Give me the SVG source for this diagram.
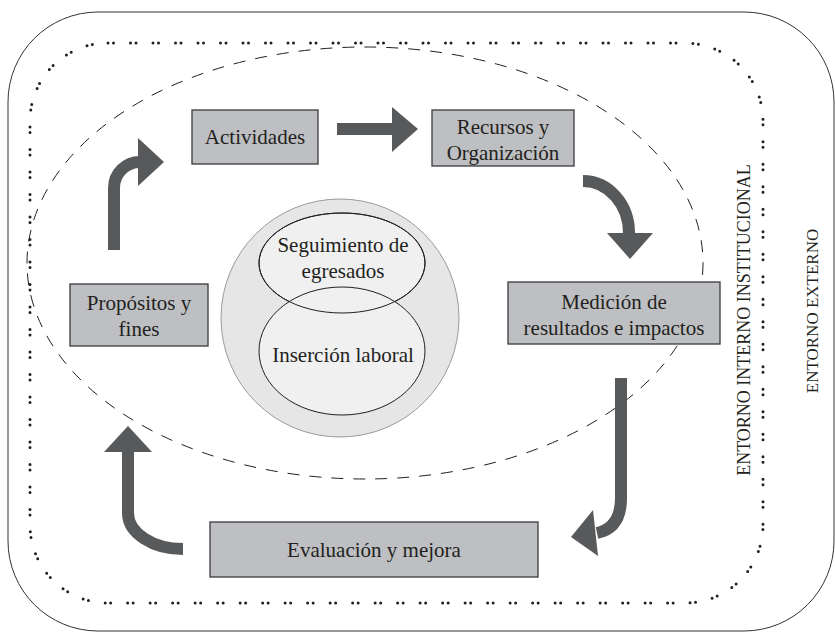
<svg xmlns="http://www.w3.org/2000/svg" width="835" height="632" viewBox="0 0 835 632">
  <style>
    text { font-family: "Liberation Serif", Tinos, "Times New Roman", "Nimbus Roman", "DejaVu Serif", serif; fill: #231f20; text-anchor: middle; }
    .lbl { font-size: 21px; }
    .side { font-size: 17px; }
    .side-in { font-size: 18px; }
    .box { fill: #bebfc2; stroke: #3a3a3a; stroke-width: 1.3; }
    .shaft { fill: none; stroke: #58595b; stroke-width: 12; stroke-linecap: butt; }
    .head { fill: #58595b; }
  </style>
  <rect width="835" height="632" fill="#ffffff"/>

  <!-- external environment frame -->
  <g id="entorno-externo">
    <rect x="8" y="12" width="826" height="619" rx="90" ry="90" fill="none" stroke="#333" stroke-width="1"/>
    <text class="side" transform="translate(812 311) rotate(-90)" dy="6">ENTORNO EXTERNO</text>
  </g>

  <!-- internal institutional environment (dotted frame) -->
  <g id="entorno-interno">
    <rect x="30" y="43" width="733" height="560" rx="78" ry="78" fill="none" stroke="#231f20" stroke-width="3" stroke-linecap="round" stroke-dasharray="0 5.5 0 17"/>
    <text class="side-in" transform="translate(744 320) rotate(-90)" dy="6">ENTORNO INTERNO INSTITUCIONAL</text>
  </g>

  <!-- dashed process boundary -->
  <g id="ciclo">
    <ellipse cx="365" cy="263" rx="338" ry="216" fill="none" stroke="#231f20" stroke-width="1" stroke-dasharray="12 10"/>
  </g>

  <!-- central core -->
  <g id="nucleo">
    <circle cx="340" cy="318" r="119" fill="#e6e6e7" stroke="#9a9a9a" stroke-width="1"/>
    <ellipse cx="342" cy="263" rx="83" ry="50" fill="#f0f0f1" stroke="#231f20" stroke-width="1"/>
    <ellipse cx="342" cy="351" rx="83" ry="64" fill="#f0f0f1" stroke="#231f20" stroke-width="1"/>
    <ellipse cx="342" cy="263" rx="83" ry="50" fill="none" stroke="#231f20" stroke-width="1"/>
  </g>
  <g id="seguimiento">
    <text class="lbl" x="343" y="252">Seguimiento de</text>
    <text class="lbl" x="343" y="278">egresados</text>
  </g>
  <g id="insercion">
    <text class="lbl" x="343" y="362">Inserción laboral</text>
  </g>

  <!-- process steps -->
  <g id="actividades">
    <rect class="box" x="192" y="110" width="126" height="54"/>
    <text class="lbl" x="255" y="144">Actividades</text>
  </g>
  <g id="recursos">
    <rect class="box" x="432" y="110" width="142" height="56"/>
    <text class="lbl" x="503" y="134">Recursos y</text>
    <text class="lbl" x="503" y="160">Organización</text>
  </g>
  <g id="medicion">
    <rect class="box" x="508" y="282" width="212" height="62"/>
    <text class="lbl" x="614" y="309">Medición de</text>
    <text class="lbl" x="614" y="335">resultados e impactos</text>
  </g>
  <g id="evaluacion">
    <rect class="box" x="210" y="522" width="328" height="55"/>
    <text class="lbl" x="374" y="557">Evaluación y mejora</text>
  </g>
  <g id="propositos">
    <rect class="box" x="70" y="284" width="138" height="62"/>
    <text class="lbl" x="139" y="310">Propósitos y</text>
    <text class="lbl" x="139" y="336">fines</text>
  </g>

  <!-- flow arrows -->
  <g id="conectores">
    <path class="shaft" d="M114,250 V188 A26,26 0 0 1 140,162"/>
    <polygon class="head" points="138,138 164,162 138,186"/>

    <path class="shaft" d="M337,129 H393"/>
    <polygon class="head" points="392,107 418,129 392,152"/>

    <path class="shaft" d="M583,181 A46,52 0 0 1 629,233"/>
    <polygon class="head" points="607,233 653,233 630,259"/>

    <path class="shaft" d="M621,378 V498 Q621,528 597,533"/>
    <polygon class="head" points="593,510 571,537 598,556"/>

    <path class="shaft" d="M183,549 A55,36 0 0 1 128,513 V451"/>
    <polygon class="head" points="104,452 128,426 152,452"/>
  </g>
</svg>
